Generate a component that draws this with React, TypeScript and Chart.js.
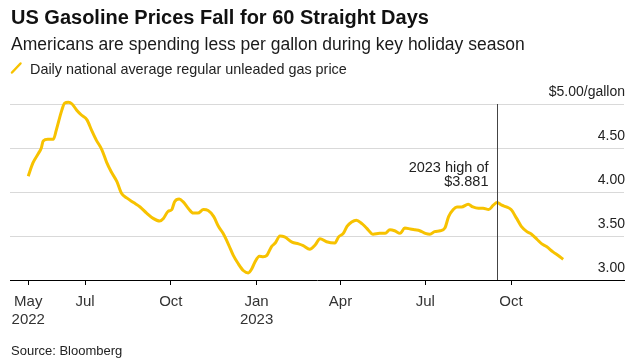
import React, { useEffect, useRef } from "react";
import { Chart, registerables } from "chart.js";

Chart.register(...registerables);

// Days since 1 May 2022
const dayIndex: number[] = [
  0, 5, 11, 14, 16, 21, 27, 30, 36, 39, 43, 47, 52, 57, 63, 68, 73, 79, 84, 89,
  95, 100, 106, 113, 120, 127, 134, 141, 145, 150, 154, 157, 162, 166, 172, 177,
  182, 188, 193, 199, 204, 209, 215, 220, 225, 231, 236, 240, 243, 248, 252, 256,
  261, 265, 270, 275, 283, 290, 295, 302, 308, 313, 320, 329, 333, 338, 342, 347,
  352, 358, 363, 370, 377, 383, 388, 393, 399, 404, 410, 415, 420, 426, 431, 436,
  442, 447, 451, 456, 460, 465, 472, 477, 483, 488, 494, 499, 503, 508, 513, 518,
  524, 529, 535, 540, 546, 551, 556, 563, 569, 574,
];

const gasPrice: number[] = [
  4.18, 4.33, 4.44, 4.5, 4.58, 4.6, 4.6, 4.7, 4.93, 5.01, 5.02, 5.0, 4.93, 4.875,
  4.82, 4.7, 4.59, 4.48, 4.34, 4.23, 4.12, 3.985, 3.93, 3.88, 3.83, 3.76, 3.7,
  3.67, 3.7, 3.78, 3.8, 3.89, 3.92, 3.89, 3.81, 3.76, 3.76, 3.8, 3.79, 3.72,
  3.61, 3.53, 3.4, 3.28, 3.19, 3.105, 3.08, 3.13, 3.2, 3.27, 3.265, 3.28, 3.38,
  3.42, 3.5, 3.49, 3.43, 3.41, 3.39, 3.35, 3.4, 3.47, 3.435, 3.42, 3.49, 3.53,
  3.61, 3.66, 3.68, 3.64, 3.59, 3.52, 3.53, 3.53, 3.57, 3.56, 3.53, 3.59, 3.58,
  3.57, 3.56, 3.53, 3.52, 3.55, 3.56, 3.59, 3.72, 3.8, 3.83, 3.83, 3.86, 3.83,
  3.815, 3.815, 3.8, 3.85, 3.881, 3.85, 3.83, 3.8, 3.7, 3.61, 3.55, 3.52, 3.46,
  3.41, 3.38, 3.32, 3.275, 3.235,
];

const xTickDays: number[] = [0, 61, 153, 245, 335, 426, 518];
const xTickLabels: (string | string[])[] = [
  ["May", "2022"],
  "Jul",
  "Oct",
  ["Jan", "2023"],
  "Apr",
  "Jul",
  "Oct",
];
const yTicks: number[] = [3, 3.5, 4, 4.5, 5];

const highDay = 503;
const highLabel: string[] = ["2023 high of", "$3.881"];

const FONT = "'Liberation Sans', Arial, Helvetica, sans-serif";
const YELLOW = "#f7c200";

const highlightPlugin = {
  id: "highlight",
  afterDatasetsDraw(chart: any) {
    const { ctx, scales } = chart;
    const x = Math.round(scales.x.getPixelForValue(highDay)) + 0.5;
    const yTop = scales.y.getPixelForValue(5);
    const yBot = scales.y.getPixelForValue(3);
    ctx.save();
    ctx.strokeStyle = "#444";
    ctx.lineWidth = 1;
    ctx.beginPath();
    ctx.moveTo(x, yTop);
    ctx.lineTo(x, yBot);
    ctx.stroke();
    ctx.fillStyle = "#222";
    ctx.font = `14.5px ${FONT}`;
    ctx.textAlign = "right";
    ctx.textBaseline = "alphabetic";
    ctx.fillText(highLabel[0], x - 9, 171.7);
    ctx.fillText(highLabel[1], x - 9, 186);
    ctx.restore();
  },
};

function GasChart() {
  const ref = useRef<HTMLCanvasElement | null>(null);
  useEffect(() => {
    if (!ref.current) return;
    const data = dayIndex.map((d, i) => ({ x: d, y: gasPrice[i] }));
    const chart = new Chart(ref.current, {
      type: "line",
      data: {
        datasets: [
          {
            data,
            borderColor: YELLOW,
            borderWidth: 3,
            pointRadius: 0,
            tension: 0.4,
            cubicInterpolationMode: "monotone",
            fill: false,
            clip: false,
          },
        ],
      },
      options: {
        animation: false,
        responsive: false,
        maintainAspectRatio: false,
        layout: { padding: { left: 10, top: 104, right: 0, bottom: 0 } },
        plugins: { legend: { display: false }, tooltip: { enabled: false } },
        scales: {
          x: {
            type: "linear",
            min: -19.6,
            max: 639.2,
            afterBuildTicks: (scale: any) => {
              scale.ticks = xTickDays.map((v) => ({ value: v }));
            },
            afterFit: (scale: any) => {
              scale.height = 82;
            },
            border: { display: true, color: "#000", width: 1 },
            grid: {
              display: true,
              drawOnChartArea: false,
              drawTicks: true,
              tickLength: 5,
              color: "#000",
            },
            ticks: {
              autoSkip: false,
              maxRotation: 0,
              padding: 8,
              color: "#333",
              font: { family: FONT, size: 15, lineHeight: 1.2 },
              callback: (_v: any, i: number) => xTickLabels[i],
            },
          },
          y: {
            position: "right",
            min: 3,
            max: 5,
            afterBuildTicks: (scale: any) => {
              scale.ticks = yTicks.map((v) => ({ value: v }));
            },
            afterFit: (scale: any) => {
              scale.width = 17;
            },
            border: { display: false },
            grid: {
              drawTicks: false,
              color: (c: any) =>
                c.tick && c.tick.value === 3 ? "rgba(0,0,0,0)" : "#d9d9d9",
              lineWidth: 1,
            },
            ticks: {
              mirror: true,
              padding: 1,
              labelOffset: -12,
              color: "#222",
              font: { family: FONT, size: 14 },
              callback: (v: any) =>
                Number(v) === 5 ? "$5.00/gallon" : Number(v).toFixed(2),
            },
          },
        },
      },
      plugins: [highlightPlugin],
    } as any);
    return () => chart.destroy();
  }, []);
  return (
    <canvas
      ref={ref}
      width={641}
      height={362}
      style={{ position: "absolute", left: 0, top: 0, width: 641, height: 362 }}
    />
  );
}

export default function App() {
  return (
    <div
      style={{
        position: "fixed",
        left: 0,
        top: 0,
        width: 641,
        height: 362,
        background: "#fff",
        fontFamily: FONT,
        color: "#111",
        overflow: "hidden",
      }}
    >
      <GasChart />
      <div
        style={{
          position: "absolute",
          left: 11,
          top: 5,
          fontSize: 20,
          fontWeight: 700,
          lineHeight: "24px",
          whiteSpace: "nowrap",
        }}
      >
        US Gasoline Prices Fall for 60 Straight Days
      </div>
      <div
        style={{
          position: "absolute",
          left: 11,
          top: 33,
          fontSize: 17.5,
          lineHeight: "22px",
          whiteSpace: "nowrap",
          color: "#1a1a1a",
        }}
      >
        Americans are spending less per gallon during key holiday season
      </div>
      <svg
        width={14}
        height={14}
        style={{ position: "absolute", left: 9, top: 61 }}
      >
        <line x1={3} y1={11.5} x2={11.5} y2={2.5} stroke={YELLOW} strokeWidth={2.5} strokeLinecap="round" />
      </svg>
      <div
        style={{
          position: "absolute",
          left: 30,
          top: 61.2,
          fontSize: 14.4,
          lineHeight: "16px",
          whiteSpace: "nowrap",
          color: "#222",
        }}
      >
        Daily national average regular unleaded gas price
      </div>
      <div
        style={{
          position: "absolute",
          left: 11,
          top: 343.2,
          fontSize: 13,
          lineHeight: "15px",
          whiteSpace: "nowrap",
          color: "#222",
        }}
      >
        Source: Bloomberg
      </div>
    </div>
  );
}
